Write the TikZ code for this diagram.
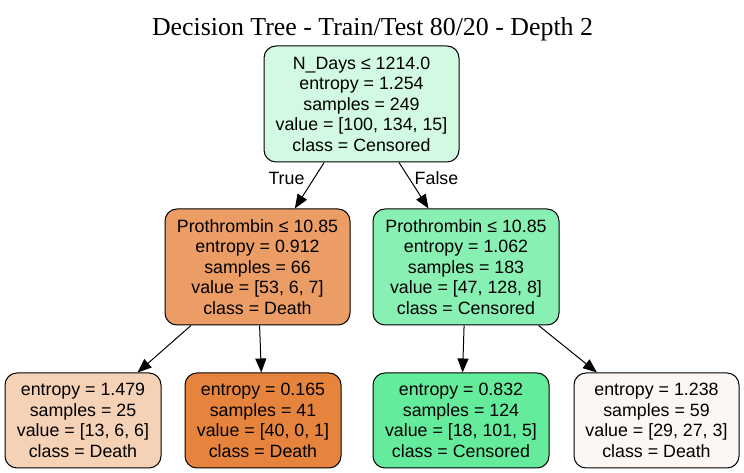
\documentclass[tikz,border=0pt]{standalone}
\usepackage{fontspec}
\setmainfont{Liberation Sans}
\newfontfamily\titlefont{Liberation Serif}
\usetikzlibrary{arrows.meta}
\definecolor{cRoot}{RGB}{210,249,226}
\definecolor{cLtwo}{RGB}{235,157,101}
\definecolor{cRtwo}{RGB}{137,240,180}
\definecolor{cLL}{RGB}{245,209,182}
\definecolor{cLR}{RGB}{230,132,62}
\definecolor{cRL}{RGB}{100,235,156}
\definecolor{cRR}{RGB}{253,247,243}
\tikzset{
  treebox/.style={draw=black, line width=0.75pt, rounded corners=9pt, inner sep=0pt,
    align=center, font=\fontsize{13.35}{15.4}\selectfont},
  treeedge/.style={draw=black, line width=0.75pt, -{Triangle[length=10.5pt,width=8.25pt]}},
  edgelabel/.style={font=\fontsize{13.35}{15.4}\selectfont, inner sep=0pt}
}
\begin{document}
\begin{tikzpicture}[x=0.75pt, y=-0.75pt]
\useasboundingbox (0,0) rectangle (744,473);
\node[anchor=base, inner sep=0pt, font=\titlefont\fontsize{19.4}{22}\selectfont] (title) at (372.5,36) {Decision Tree - Train/Test 80/20 - Depth 2};

\node[treebox, fill=cRoot, minimum width=195*0.75pt, minimum height=116*0.75pt] (root) at (361.5,104)
  {N\_Days ≤ 1214.0\\entropy = 1.254\\samples = 249\\value = [100, 134, 15]\\class = Censored};
\node[treebox, fill=cLtwo, minimum width=185*0.75pt, minimum height=116*0.75pt] (ltwo) at (257.5,267)
  {Prothrombin ≤ 10.85\\entropy = 0.912\\samples = 66\\value = [53, 6, 7]\\class = Death};
\node[treebox, fill=cRtwo, minimum width=186*0.75pt, minimum height=116*0.75pt] (rtwo) at (466,267)
  {Prothrombin ≤ 10.85\\entropy = 1.062\\samples = 183\\value = [47, 128, 8]\\class = Censored};
\node[treebox, fill=cLL, minimum width=156*0.75pt, minimum height=95*0.75pt] (ll) at (83,420.5)
  {entropy = 1.479\\samples = 25\\value = [13, 6, 6]\\class = Death};
\node[treebox, fill=cLR, minimum width=156*0.75pt, minimum height=95*0.75pt] (lr) at (263,420.5)
  {entropy = 0.165\\samples = 41\\value = [40, 0, 1]\\class = Death};
\node[treebox, fill=cRL, minimum width=176*0.75pt, minimum height=95*0.75pt] (rl) at (461,420.5)
  {entropy = 0.832\\samples = 124\\value = [18, 101, 5]\\class = Censored};
\node[treebox, fill=cRR, minimum width=165*0.75pt, minimum height=95*0.75pt] (rr) at (656.5,420.5)
  {entropy = 1.238\\samples = 59\\value = [29, 27, 3]\\class = Death};

\draw[treeedge] (root) -- (ltwo);
\draw[treeedge] (root) -- (rtwo);
\draw[treeedge] (ltwo) -- (ll);
\draw[treeedge] (ltwo) -- (lr);
\draw[treeedge] (rtwo) -- (rl);
\draw[treeedge] (rtwo) -- (rr);

\node[edgelabel] (truelbl) at (286.5,178) {True};
\node[edgelabel] (falselbl) at (436.5,178) {False};
\end{tikzpicture}
\end{document}
